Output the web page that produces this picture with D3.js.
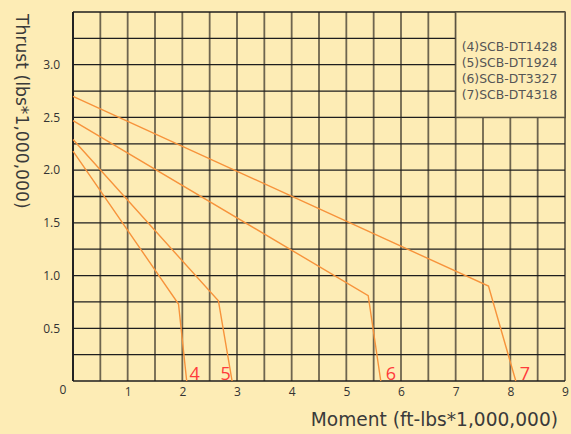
<!DOCTYPE html>
<html>
<head>
<meta charset="utf-8">
<script src="https://cdn.jsdelivr.net/npm/d3@7"></script>
<style>
  body { margin: 0; background: #fdecb5; }
  svg { display: block; font-family: "Open Sans", "DejaVu Sans", sans-serif; }
</style>
</head>
<body>
<svg id="chart"></svg>
<script>
// values
const curveIds = ['4', '5', '6', '7'];
const legendLabels = ['(4)SCB-DT1428', '(5)SCB-DT1924', '(6)SCB-DT3327', '(7)SCB-DT4318'];
const moment4 = [0, 1.93, 2.08];
const thrust4 = [2.18, 0.73, 0];
const moment5 = [0, 2.66, 2.91];
const thrust5 = [2.29, 0.76, 0];
const moment6 = [0, 5.4, 5.63];
const thrust6 = [2.47, 0.81, 0];
const moment7 = [0, 7.6, 8.1];
const thrust7 = [2.7, 0.9, 0];
const labelMoment = [2.13, 2.7, 5.72, 8.17];
const xTicks = [1, 2, 3, 4, 5, 6, 7, 8, 9];
const yTicks = [0.5, 1.0, 1.5, 2.0, 2.5, 3.0];

const width = 571, height = 434;
const margin = { top: 12, right: 6, bottom: 53, left: 73 };

const svg = d3.select('#chart')
  .attr('width', width)
  .attr('height', height);

svg.append('rect')
  .attr('width', width)
  .attr('height', height)
  .attr('fill', '#fdecb5');

const x = d3.scaleLinear().domain([0, 9]).range([margin.left, width - margin.right]);
const y = d3.scaleLinear().domain([0, 3.5]).range([height - margin.bottom, margin.top]);

// grid
const g = svg.append('g');
g.selectAll('line.v')
  .data(d3.range(0, 9.01, 0.5))
  .enter()
  .append('line')
  .attr('class', 'v')
  .attr('x1', d => x(d)).attr('x2', d => x(d))
  .attr('y1', y(0)).attr('y2', y(3.5))
  .attr('stroke', d => d === 0 ? '#222' : '#4a4436')
  .attr('stroke-opacity', d => d === 0 ? 1 : 0.8)
  .attr('stroke-width', d => d === 0 ? 2 : 1.8);

g.selectAll('line.h')
  .data(d3.range(0, 3.51, 0.25))
  .enter()
  .append('line')
  .attr('class', 'h')
  .attr('x1', x(0)).attr('x2', x(9))
  .attr('y1', d => y(d)).attr('y2', d => y(d))
  .attr('stroke', '#1e1e1e')
  .attr('stroke-width', d => d === 0 ? 1.6 : 1.3);

// legend box covers the top right cells
svg.append('rect')
  .attr('x', x(7))
  .attr('y', y(3.5))
  .attr('width', x(9) - x(7))
  .attr('height', y(2.5) - y(3.5))
  .attr('fill', '#fdecb5')
  .attr('stroke', '#4a4436')
  .attr('stroke-opacity', 0.8)
  .attr('stroke-width', 1.6);

svg.selectAll('text.legend')
  .data(legendLabels)
  .enter()
  .append('text')
  .attr('class', 'legend')
  .attr('x', x(7) + 6)
  .attr('y', (d, i) => y(3.5) + 39 + i * 16)
  .attr('font-family', '"DejaVu Sans", sans-serif')
  .attr('font-size', 12.4)
  .attr('fill', '#555')
  .text(d => d);

// curves
const curves = [
  moment4.map((m, i) => [m, thrust4[i]]),
  moment5.map((m, i) => [m, thrust5[i]]),
  moment6.map((m, i) => [m, thrust6[i]]),
  moment7.map((m, i) => [m, thrust7[i]])
];

const line = d3.line().x(d => x(d[0])).y(d => y(d[1]));

svg.selectAll('path.curve')
  .data(curves)
  .enter()
  .append('path')
  .attr('class', 'curve')
  .attr('d', line)
  .attr('fill', 'none')
  .attr('stroke', '#f7933b')
  .attr('stroke-width', 1.4);

svg.selectAll('text.id')
  .data(curveIds)
  .enter()
  .append('text')
  .attr('class', 'id')
  .attr('x', (d, i) => x(labelMoment[i]))
  .attr('y', y(0) - 1)
  .attr('font-size', 18)
  .attr('fill', '#ff3b3b')
  .text(d => d);

// axes
const xAxis = svg.append('g')
  .attr('transform', 'translate(0,' + y(0) + ')')
  .call(d3.axisBottom(x).tickValues(xTicks).tickSize(0).tickPadding(6).tickFormat(d3.format('d')));
const yAxis = svg.append('g')
  .attr('transform', 'translate(' + x(0) + ',0)')
  .call(d3.axisLeft(y).tickValues(yTicks).tickSize(0).tickPadding(13).tickFormat(d3.format('.1f')));

[xAxis, yAxis].forEach(a => {
  a.select('.domain').remove();
  a.selectAll('text')
    .attr('font-family', '"Open Sans", "DejaVu Sans", sans-serif')
    .attr('font-size', 12)
    .attr('fill', '#333');
});

svg.append('text')
  .attr('x', x(0) - 10)
  .attr('y', y(0) + 13)
  .attr('text-anchor', 'middle')
  .attr('font-size', 12)
  .attr('fill', '#333')
  .text('0');

svg.append('text')
  .attr('x', 558)
  .attr('y', 426)
  .attr('text-anchor', 'end')
  .attr('font-family', '"DejaVu Sans", sans-serif')
  .attr('font-size', 18.6)
  .attr('fill', '#3a3a3a')
  .text('Moment (ft-lbs*1,000,000)');

svg.append('text')
  .attr('transform', 'translate(16,14) rotate(90)')
  .attr('text-anchor', 'start')
  .attr('font-family', '"DejaVu Sans", sans-serif')
  .attr('font-size', 17.2)
  .attr('fill', '#3a3a3a')
  .text('Thrust (lbs*1,000,000)');
</script>
</body>
</html>
